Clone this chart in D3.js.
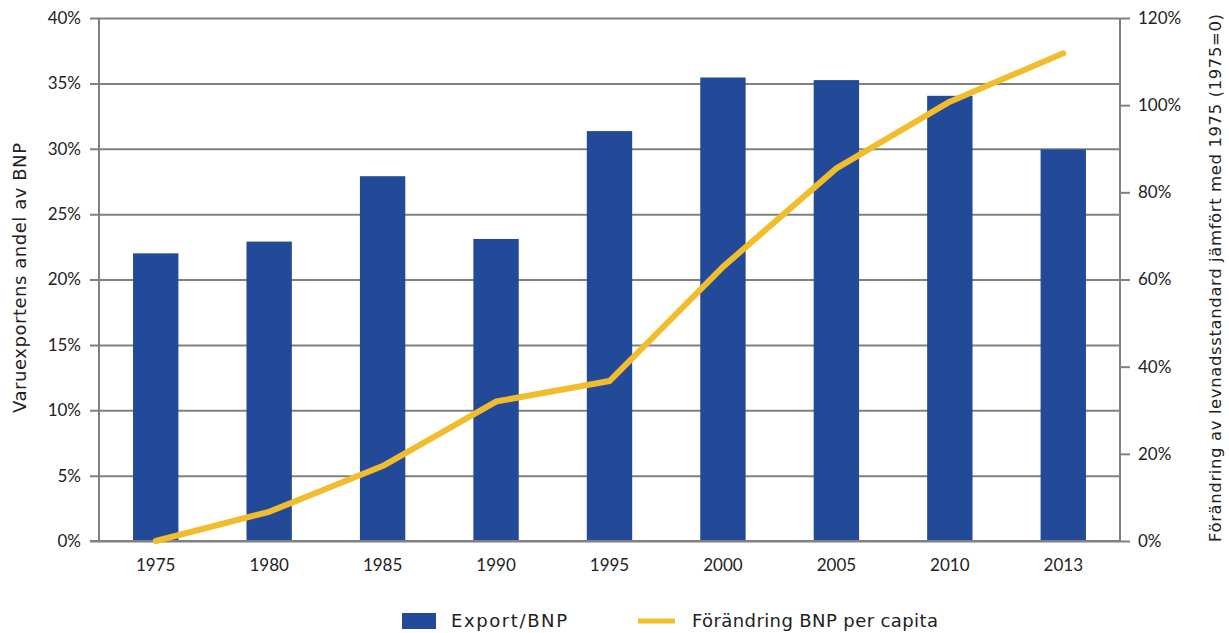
<!DOCTYPE html>
<html>
  <head>
    <meta charset="utf-8">
    <title>Export och BNP per capita</title>
    <script src="https://d3js.org/d3.v7.min.js"></script>
    <style>
      body { margin: 0; background: #fff; }
      text { font-family: Lato, "Noto Sans", sans-serif; fill: #222; }
      .wide { font-family: "DejaVu Sans", Lato, sans-serif; }
    </style>
  </head>
  <body>
    <div id="chart"></div>
    <script>
      // data
      var years = ["1975", "1980", "1985", "1990", "1995", "2000", "2005", "2010", "2013"];
      var exportShare = [22.0, 22.9, 27.9, 23.1, 31.35, 35.45, 35.25, 34.05, 29.95];
      var gdpChange = [0, 6.7, 17.2, 32.0, 36.7, 62.9, 85.5, 100.8, 111.9];
      var leftTicks = [0, 5, 10, 15, 20, 25, 30, 35, 40];
      var rightTicks = [0, 20, 40, 60, 80, 100, 120];

      var width = 1229, height = 633;
      var m = { left: 99, right: 1120, top: 18, bottom: 541 };
      var grey = "#808080", blue = "#234a98", yellow = "#f2bd2c";

      var svg = d3.select("#chart").append("svg")
        .attr("width", width)
        .attr("height", height);

      var x = d3.scaleBand().domain(years).range([m.left, m.right]).paddingInner(0.6).paddingOuter(0.3);
      var yL = d3.scaleLinear().domain([0, 40]).range([m.bottom, m.top]);
      var yR = d3.scaleLinear().domain([0, 120]).range([m.bottom, m.top]);

      // left axis with gridlines
      var leftAxis = svg.append("g")
        .attr("transform", "translate(" + m.left + ",0)")
        .call(d3.axisLeft(yL).tickValues(leftTicks).tickSize(-(m.right - m.left)).tickPadding(18)
          .tickFormat(function(d) { return d + "%"; }));
      leftAxis.select(".domain").remove();
      leftAxis.selectAll(".tick line").attr("x1", -9).attr("stroke", grey).attr("stroke-width", 2);
      leftAxis.selectAll(".tick text").attr("font-size", 17).attr("x", -18);

      // right axis
      var rightAxis = svg.append("g")
        .attr("transform", "translate(" + m.right + ",0)")
        .call(d3.axisRight(yR).tickValues(rightTicks).tickSize(10).tickPadding(8)
          .tickFormat(function(d) { return d + "%"; }));
      rightAxis.select(".domain").remove();
      rightAxis.selectAll(".tick line").attr("stroke", grey).attr("stroke-width", 2);
      rightAxis.selectAll(".tick text").attr("font-size", 17);

      // vertical axis lines
      svg.append("line").attr("x1", m.left).attr("x2", m.left).attr("y1", m.top).attr("y2", m.bottom + 1)
        .attr("stroke", grey).attr("stroke-width", 2);
      svg.append("line").attr("x1", m.right).attr("x2", m.right).attr("y1", m.top).attr("y2", m.bottom + 1)
        .attr("stroke", grey).attr("stroke-width", 2);

      // bars
      svg.selectAll(".bar")
        .data(exportShare)
        .enter().append("rect")
        .attr("class", "bar")
        .attr("x", function(d, i) { return x(years[i]); })
        .attr("width", x.bandwidth())
        .attr("y", function(d) { return yL(d); })
        .attr("height", function(d) { return m.bottom - yL(d); })
        .attr("fill", blue);

      // bottom gridline redrawn over bars
      svg.append("line").attr("x1", m.left - 9).attr("x2", m.right).attr("y1", m.bottom).attr("y2", m.bottom)
        .attr("stroke", grey).attr("stroke-width", 2);

      // line
      var line = d3.line()
        .x(function(d, i) { return x(years[i]) + x.bandwidth() / 2; })
        .y(function(d) { return yR(d); });
      svg.append("path")
        .datum(gdpChange)
        .attr("d", line)
        .attr("fill", "none")
        .attr("stroke", yellow)
        .attr("stroke-width", 6)
        .attr("stroke-linecap", "round")
        .attr("stroke-linejoin", "round");

      // x labels
      svg.selectAll(".xlab")
        .data(years)
        .enter().append("text")
        .attr("class", "xlab")
        .attr("x", function(d) { return x(d) + x.bandwidth() / 2; })
        .attr("y", 571)
        .attr("text-anchor", "middle")
        .attr("font-size", 17)
        .text(function(d) { return d; });

      // axis titles
      svg.append("text")
        .attr("class", "wide")
        .attr("transform", "translate(26,278) rotate(-90)")
        .attr("text-anchor", "middle")
        .attr("font-size", 18)
        .attr("textLength", 270)
        .attr("lengthAdjust", "spacing")
        .text("Varuexportens andel av BNP");
      svg.append("text")
        .attr("class", "wide")
        .attr("transform", "translate(1221,278) rotate(-90)")
        .attr("text-anchor", "middle")
        .attr("font-size", 16.5)
        .attr("textLength", 528)
        .attr("lengthAdjust", "spacing")
        .text("Förändring av levnadsstandard jämfört med 1975 (1975=0)");

      // legend
      svg.append("rect").attr("x", 402).attr("y", 613).attr("width", 34).attr("height", 16).attr("fill", blue);
      svg.append("text").attr("class", "wide").attr("x", 451).attr("y", 627).attr("font-size", 18)
        .attr("textLength", 116).attr("lengthAdjust", "spacing").text("Export/BNP");
      svg.append("line").attr("x1", 638).attr("x2", 675).attr("y1", 621).attr("y2", 621)
        .attr("stroke", yellow).attr("stroke-width", 5);
      svg.append("text").attr("class", "wide").attr("x", 692).attr("y", 627).attr("font-size", 18)
        .attr("textLength", 246).attr("lengthAdjust", "spacing").text("Förändring BNP per capita");
    </script>
  </body>
</html>
